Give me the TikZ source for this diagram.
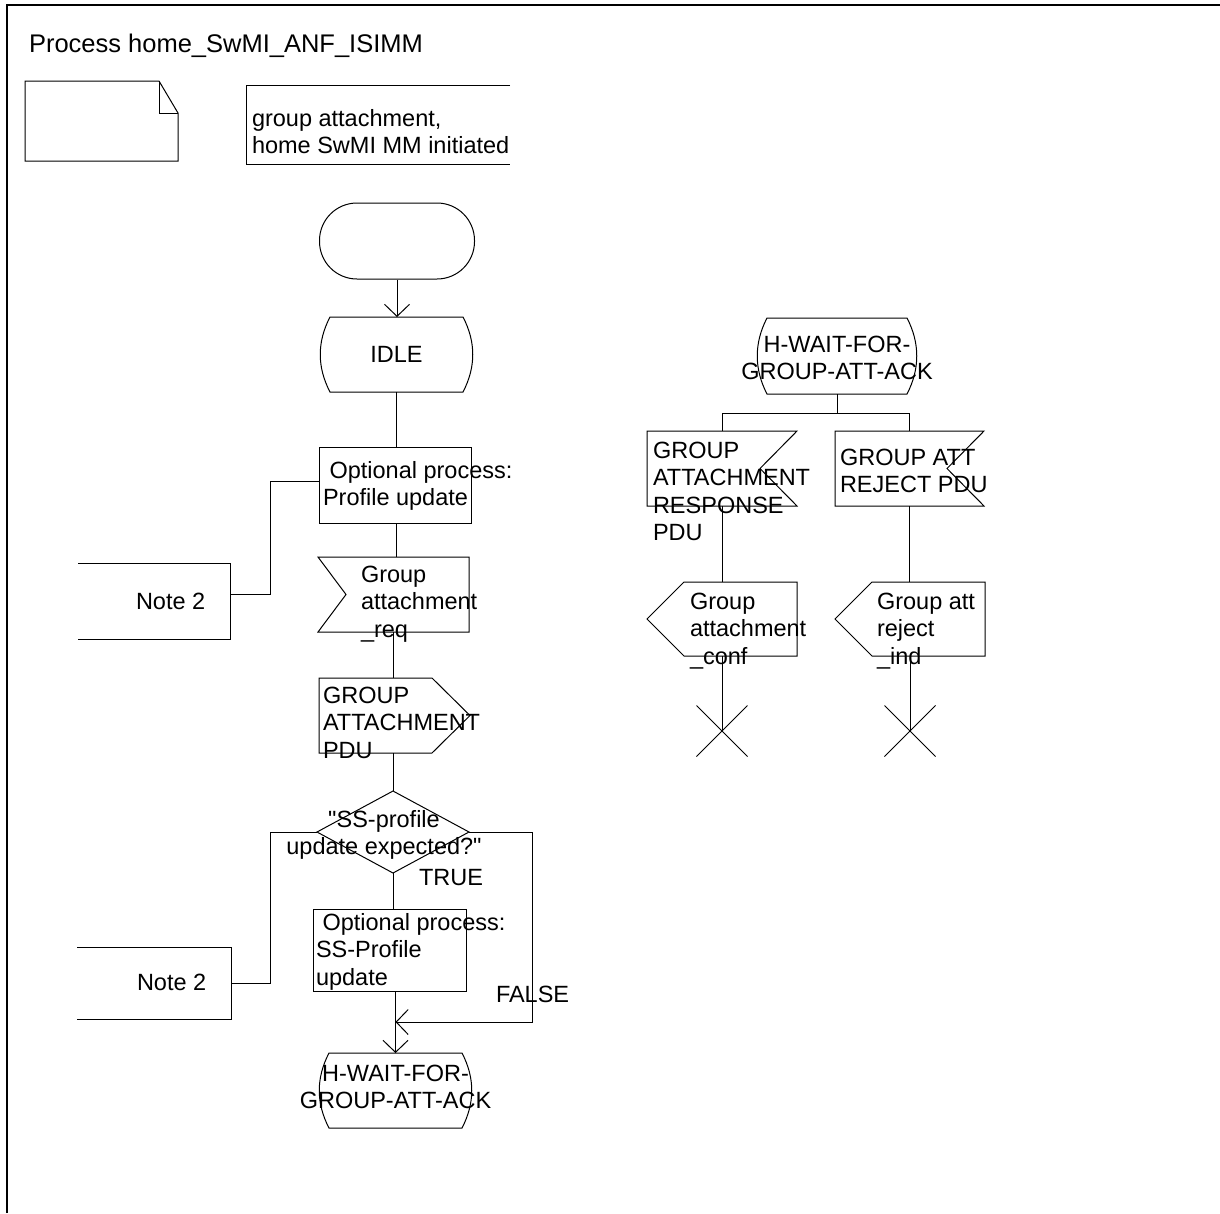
\documentclass[tikz,border=0pt]{standalone}
\usepackage{fontspec}
\setmainfont{Liberation Sans}
\usetikzlibrary{calc,arrows.meta}
\newcommand\bodyfont{\fontsize{23.5pt}{27.5pt}\selectfont}
\newcommand\sq{\XeTeXglyph\XeTeXcharglyph"22\relax}
\tikzset{
  ln/.style={line width=1pt, draw=black},
  arr/.style={-{Straight Barb[length=12pt,width=25pt,line width=1pt]}},
  geo/.style 2 args={rectangle, inner sep=0pt, outer sep=0pt, minimum width=#1pt, minimum height=#2pt, font=\bodyfont},
  txt/.style={inner sep=0pt, outer sep=0pt, align=left, font=\bodyfont},
  ctxt/.style={txt, align=center},
}
\newcommand\SDLstate[1]{\draw[ln] (#1.north west) -- (#1.north east)
  .. controls ($(#1.north east)+(13,25)$) and ($(#1.south east)+(13,-25)$) .. (#1.south east)
  -- (#1.south west)
  .. controls ($(#1.south west)+(-13,-25)$) and ($(#1.north west)+(-13,25)$) .. cycle;}
\begin{document}
\begin{tikzpicture}[x=1pt,y=-1pt]
\useasboundingbox (0,0) rectangle (1220,1213);
\draw[line width=1.5pt] (7,1213) -- (7,5) -- (1220,5);

\node[txt, anchor=north west, font=\fontsize{25.5pt}{30pt}\selectfont] (title) at (29,34) {Process home\_SwMI\_ANF\_ISIMM};

% document symbol
\node[geo={153}{80}] (doc) at (101.5,121) {};
\draw[ln] (doc.north west) -- ($(doc.north east)+(-19,0)$) -- ($(doc.north east)+(0,32)$) -- (doc.south east) -- (doc.south west) -- cycle;
\draw[ln] ($(doc.north east)+(-19,0)$) -- ($(doc.north east)+(-19,32)$) -- ($(doc.north east)+(0,32)$);

% text symbol
\node[geo={264}{79}] (cmt) at (378,124.5) {};
\draw[ln] (cmt.north east) -- (cmt.north west) -- (cmt.south west) -- (cmt.south east);
\node[txt, anchor=north west] (cmtt) at (252,109) {group attachment,\\home SwMI MM initiated};

% left column
\node[draw, line width=1pt, rounded corners=37.5pt, minimum width=155pt, minimum height=76pt, inner sep=0pt] (start) at (397,241) {};

\node[geo={133}{75}] (idle) at (396.5,354.5) {IDLE};
\SDLstate{idle}

\node[geo={152}{76}, draw, line width=1pt] (task1) at (395,485) {};
\node[txt, anchor=north west] (task1t) at (323,461) {\ Optional process:\\Profile update};

\node[geo={151}{75}] (in1) at (393.5,594.5) {};
\draw[ln] (in1.north west) -- (in1.north east) -- (in1.south east) -- (in1.south west) -- ($(in1.west)+(28,0)$) -- cycle;
\node[txt, anchor=north west] (in1t) at (361,566) {Group\\attachment\\\_req};

\node[geo={151}{75}] (o1) at (394.5,715.5) {};
\draw[ln] (o1.north west) -- ($(o1.north east)+(-38,0)$) -- (o1.east) -- ($(o1.south east)+(-38,0)$) -- (o1.south west) -- cycle;
\node[txt, anchor=north west] (o1t) at (323,687) {GROUP\\ATTACHMENT\\PDU};

\node[geo={152}{82}] (dec) at (393,832) {};
\draw[ln] (dec.west) -- (dec.north) -- (dec.east) -- (dec.south) -- cycle;
\node[ctxt, anchor=north] (dect) at (384,810) {\sq SS-profile\\update expected?\sq};
\node[txt, anchor=north west] (true) at (419,869) {TRUE};
\node[txt, anchor=north west] (false) at (496,986) {FALSE};

\node[geo={153}{82}, draw, line width=1pt] (task2) at (389.5,950) {};
\node[txt, anchor=north west] (task2t) at (316,913) {\ Optional process:\\SS-Profile\\update};

\node[geo={133}{75}] (fs) at (395.5,1090.5) {};
\SDLstate{fs}
\node[ctxt] (fst) at (395.5,1087) {H-WAIT-FOR-\\GROUP-ATT-ACK};

% notes
\node[geo={152}{76}] (note1) at (154,601) {};
\draw[ln] (note1.north west) -- (note1.north east) -- (note1.south east) -- (note1.south west);
\node[txt, anchor=north west] (note1t) at (136,593) {Note 2};
\node[geo={154}{72}] (note2) at (154,983) {};
\draw[ln] (note2.north west) -- (note2.north east) -- (note2.south east) -- (note2.south west);
\node[txt, anchor=north west] (note2t) at (137,974) {Note 2};

% right column
\node[geo={140}{76}] (rs) at (837,356) {};
\SDLstate{rs}
\node[ctxt] (rst) at (837,358) {H-WAIT-FOR-\\GROUP-ATT-ACK};

\node[geo={150}{75}] (r1) at (722,468.5) {};
\draw[ln] (r1.north east) -- (r1.north west) -- (r1.south west) -- (r1.south east) -- ($(r1.east)+(-37,0)$) -- cycle;
\node[txt, anchor=north west] (r1t) at (653,442) {GROUP\\ATTACHMENT\\RESPONSE\\PDU};

\node[geo={149}{75}] (r2) at (909.5,468.5) {};
\draw[ln] (r2.north east) -- (r2.north west) -- (r2.south west) -- (r2.south east) -- ($(r2.east)+(-37,0)$) -- cycle;
\node[txt, anchor=north west] (r2t) at (840,449) {GROUP ATT\\REJECT PDU};

\node[geo={150}{74}] (ro1) at (722,619) {};
\draw[ln] (ro1.north east) -- ($(ro1.north west)+(37,0)$) -- (ro1.west) -- ($(ro1.south west)+(37,0)$) -- (ro1.south east) -- cycle;
\node[txt, anchor=north west] (ro1t) at (690,593) {Group\\attachment\\\_conf};

\node[geo={150}{74}] (ro2) at (910,619) {};
\draw[ln] (ro2.north east) -- ($(ro2.north west)+(37,0)$) -- (ro2.west) -- ($(ro2.south west)+(37,0)$) -- (ro2.south east) -- cycle;
\node[txt, anchor=north west] (ro2t) at (877,593) {Group att\\reject\\\_ind};

\coordinate (x1) at (722,731);
\coordinate (x2) at (910,731);
\draw[ln] ($(x1)+(-25.5,-25.5)$) -- ($(x1)+(25.5,25.5)$);
\draw[ln] ($(x1)+(-25.5,25.5)$) -- ($(x1)+(25.5,-25.5)$);
\draw[ln] ($(x2)+(-25.5,-25.5)$) -- ($(x2)+(25.5,25.5)$);
\draw[ln] ($(x2)+(-25.5,25.5)$) -- ($(x2)+(25.5,-25.5)$);

% connectors left
\draw[ln,arr] (start.south) -- (start.south |- idle.north);
\draw[ln] (idle.south) -- (idle.south |- task1.north);
\draw[ln] (idle.south |- task1.south) -- (idle.south |- in1.north);
\draw[ln] (dec.north |- in1.south) -- (dec.north |- o1.north);
\draw[ln] (dec.north |- o1.south) -- (dec.north);
\draw[ln] (dec.south) -- (dec.south |- task2.north);
\coordinate (jn) at ($(fs.north)+(0,-31)$);
\coordinate (fx) at (532,1022);
\draw[ln,arr] (fs.north |- task2.south) -- (fs.north);
\draw[ln,arr] (dec.east) -| (fx) -- (jn);
\coordinate (k1) at (270,481);
\draw[ln] ($(note1.east)+(0,-7)$) -| (k1) -- (k1 -| task1.west);
\coordinate (k2) at (270,832);
\draw[ln] (note2.east) -| (k2) -- (dec.west);

% connectors right
\draw[ln] (rs.south) -- ++(0,19) coordinate (br);
\draw[ln] (r1.north) -- (r1.north |- br) -- (r2.north |- br) -- (r2.north);
\draw[ln] (r1.south) -- (ro1.north);
\draw[ln] (r2.south) -- (r2.south |- ro2.north);
\draw[ln] (ro1.south) -- (x1);
\draw[ln] (ro2.south) -- (x2);
\end{tikzpicture}
\end{document}
